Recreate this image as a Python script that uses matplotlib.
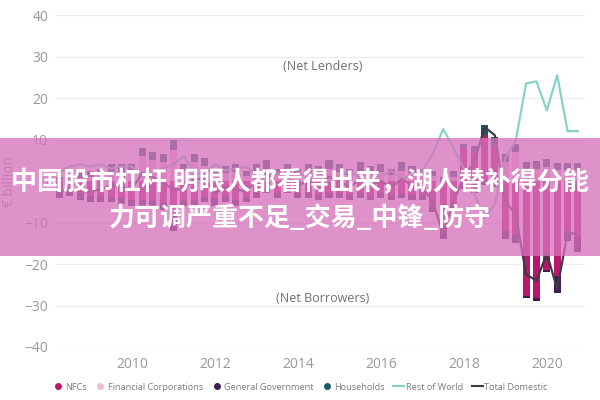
import numpy as np
import matplotlib
matplotlib.use('Agg')
import matplotlib.pyplot as plt
from matplotlib.lines import Line2D
from matplotlib.patches import Rectangle

plt.rcParams['font.family'] = ['Open Sans', 'DejaVu Sans']

# quarters 2008Q2 .. 2020Q4 (plotted as year + (q-1)/4)
quarters = np.arange(2008.25, 2020.76, 0.25)

nfc = [-2.5, -2.3, -3, -3.5, -3.5, -3.8, -4, -4.5, -4.5, -4.5, -5, -8.5,
       -4.5, -4.5, -3.8, -4, -3.5, -4.5, -3.8, -3, -2, -3, -2, -2.8,
       -3, -3.3, -3, -3, -3.3, -3, -3.5, -3, -3.3, -3, -3.3, -3.3,
       -6, -11, -5.5, 8, 7, 11, 8.5, -12, -13, -27.8, -28.3, -21.5,
       -23, -12, -13.5]
fin_corp = [0.2, 0.5, 0.8, 1, 1.5, 2.2, 2.2, 2.2, 6, 5, 4.5, 7.5,
            2.5, 4.5, 3.5, 1.5, 2, 2.2, 1.3, 2.2, 3, 1.5, 2.2, 1.5,
            2.2, 2, 3, 2.2, 1.5, 2.5, 2, 2.2, 1.5, 2.5, 2, 1.5,
            1.3, 0, 1, 0, 0, 0, 0, 4.5, 7, 2.7, 3, 3.3,
            2.6, 2.6, 2.6]
gen_gov = [-1.5, -1.2, -1.5, -1.5, -1.5, -1.2, -1.5, -1.5, -1.5, -1.5, -2, -3.5,
           -1.5, -1.5, -1.2, -2, -1.5, -1.5, -1.2, -1, -1, -1, -1, -1.2,
           -1, -1.2, -1, -1, -1.2, -1, -1, -1, -1.2, -1, -1.2, -1.2,
           -1.5, -3, -1.5, -2, -3, -1, -1.5, -2, -2, -0.5, -0.5, -0.5,
           -4, -2.5, -3.5]
households = [0.8, 1, 1.2, 1.5, 1.5, 1.8, 1.8, 1.8, 2, 2, 2, 2.5,
              1.5, 2, 2, 1.5, 1.5, 1.8, 1.2, 1.8, 2, 1.5, 1.8, 1.5,
              1.8, 1.5, 2, 1.8, 1.5, 2, 1.5, 1.8, 1.5, 2, 1.5, 1.5,
              1.2, 1, 1.5, 1, 1.5, 2.5, 2, 2, 2, 1.8, 1.8, 2,
              1.8, 1.8, 1.8]
rest_world = [2, 3.5, 4, 3.5, 4, 3, 3.5, 3.5, 1, 2, 3, 4,
              6, 2, 1.5, 4, 2.5, 3, 3.5, 1.5, 0, 2, 0.5, 2,
              1, 2, 0, 1, 2.5, 0.5, 2, 1, 2.5, 0.5, 1.5, 2.4,
              6.5, 12.5, 8, 3, -3, -9, -5.5, 5.5, 9.7, 23.5, 24, 17,
              25.5, 12, 12]
total_dom = [-2.5, -2, -2.5, -2.5, -2, -1, -1.5, -2, 2, 1, -0.5, -2,
             -2, 0.5, 0.5, -3, -1.5, -2, -2.5, 0, 2, -1, 1, -1,
             0, -1, 1, 0, -1.5, 0.5, -1, 0, -1.5, 0.5, -1, -1.5,
             -5, -12.8, -5, 1, 4.5, 13, 11, -5, -8, -22.5, -24, -17.5,
             -26, -12.5, -12.8]

series_names = ['NFCs', 'Financial Corporations', 'General Government', 'Households']
series = [nfc, fin_corp, gen_gov, households]
colors = ['#b8176d', '#f2bdd3', '#3f1c55', '#1d5766']
col_row = '#86d3c8'
col_tot = '#3b3b45'
grey = '#999999'

fig = plt.figure(figsize=(6, 4), dpi=100)
ax = fig.add_axes([0.092, 0.1325, 0.883, 0.83])

pos_base = np.zeros(len(quarters))
neg_base = np.zeros(len(quarters))
for vals, c in zip(series, colors):
    v = np.array(vals, dtype=float)
    base = np.where(v >= 0, pos_base, neg_base)
    ax.bar(quarters, v, bottom=base, width=0.17, color=c, zorder=2)
    pos_base = pos_base + np.where(v > 0, v, 0)
    neg_base = neg_base + np.where(v < 0, v, 0)

ax.plot(quarters, rest_world, color=col_row, lw=1.6, zorder=3)
ax.plot(quarters, total_dom, color=col_tot, lw=1.6, zorder=3)

ax.set_ylim(-40, 40)
ax.set_xlim(2008.15, 2020.92)
ax.set_yticks(range(-40, 41, 10))
ax.set_xticks(range(2010, 2021, 2))
ax.grid(axis='y', color='#ececec', lw=0.8, zorder=0)
for s in ax.spines.values():
    s.set_visible(False)
ax.tick_params(length=0, colors=grey, labelsize=10, pad=7)
ax.tick_params(axis='y', pad=5)
ax.set_ylabel('€ billion', color=grey, fontsize=10)
ax.yaxis.set_label_coords(-0.072, 0.5)

ax.text(2014.6, 27.5, '(Net Lenders)', color='#707070', fontsize=9, ha='center', va='center')
ax.text(2014.6, -28.3, '(Net Borrowers)', color='#707070', fontsize=9, ha='center', va='center')

handles = [Line2D([], [], marker='o', ls='', color=c, markersize=4) for c in colors]
handles += [Line2D([], [], color=col_row, lw=1.5), Line2D([], [], color=col_tot, lw=1.5)]
labels = series_names + ['Rest of World', 'Total Domestic']
leg = fig.legend(handles, labels, loc='center', bbox_to_anchor=(0.5, 0.032), ncol=6,
                 frameon=False, fontsize=6.6, handlelength=1.2, handletextpad=0.2,
                 columnspacing=0.9, borderaxespad=0)
for t in leg.get_texts():
    t.set_color('#7a7a7a')

# overlay banner
fig.patches.append(Rectangle((0, 0.36), 1, 0.295, transform=fig.transFigure,
                             facecolor='#d672bb', alpha=0.78, edgecolor='none', zorder=10))
cjk = ['Noto Sans CJK SC', 'DejaVu Sans']
fig.text(0.5, 0.543, '中国股市杠杆 明眼人都看得出来，湖人替补得分能', color='white',
         fontsize=18.7, fontweight='bold', family=cjk, ha='center', va='center', zorder=11)
fig.text(0.5, 0.455, '力可调严重不足_交易_中锋_防守', color='white',
         fontsize=18.7, fontweight='bold', family=cjk, ha='center', va='center', zorder=11)

fig.savefig('out.png', dpi=100)
